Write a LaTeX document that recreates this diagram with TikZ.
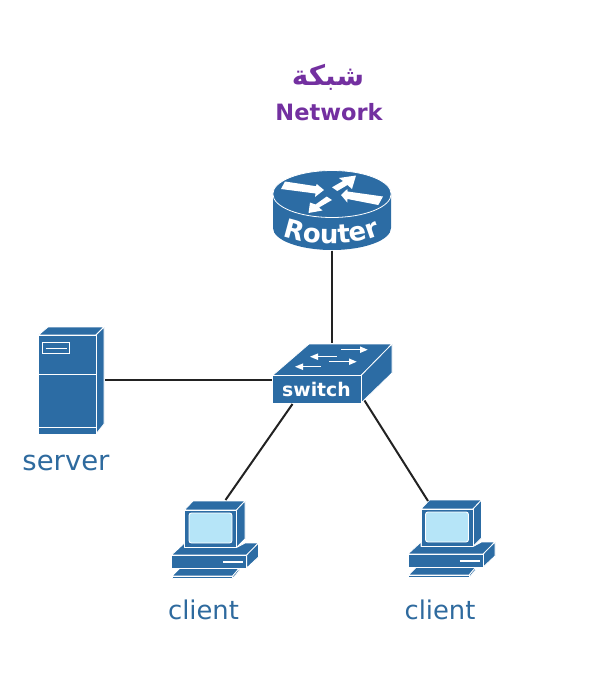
\documentclass[tikz,border=0pt]{standalone}
\usepackage{fontspec}
\setmainfont{DejaVu Sans}
\newfontfamily\arabicfont[Script=Arabic]{DejaVu Sans}
\TeXXeTstate=1
\usetikzlibrary{decorations.text}
\definecolor{iconblue}{HTML}{2C6CA4}
\definecolor{labelblue}{HTML}{2E6A9E}
\definecolor{titlepurple}{HTML}{7330A0}
\definecolor{screenblue}{HTML}{B6E5F8}
\definecolor{linkgray}{HTML}{222222}
\tikzset{
  x=1pt,y=-1pt,
  face/.style={fill=iconblue,draw=white,line width=0.8pt,line join=round},
  whiteline/.style={draw=white,line width=0.9pt},
  whitefill/.style={fill=white},
  link/.style={draw=linkgray,line width=2pt},
  devlabel/.style={text=labelblue,font=\fontsize{25.8}{30}\selectfont,inner sep=0pt},
  titletext/.style={text=titlepurple,font=\fontsize{22.5}{27}\selectfont\bfseries,inner sep=0pt},
  port/.style={inner sep=0pt,outer sep=0pt,minimum size=0pt},
  smallarrow/.style={draw=white,line width=1.3pt},
  clientpc/.pic={
    \path[face] (0,9)--(8.5,0)--(60.5,0)--(52,9)--cycle;
    \path[face] (52,9)--(60.5,0)--(60.5,38)--(52,46.5)--cycle;
    \path[face] (0,9) rectangle (52,46.5);
    \path[fill=screenblue,draw=white,line width=0.9pt,rounded corners=2.5pt] (4.5,12) rectangle (47.5,42);
    \path[face] (-13,54)--(0,42)--(0,46.5)--(52,46.5)--(60.5,42)--(74,42)--(62.2,54)--cycle;
    \path[face] (62.2,54)--(74,42)--(74,56)--(62.2,67)--cycle;
    \path[face] (-13,54) rectangle (62.2,67);
    \draw[whiteline,line width=1.3pt] (38.5,61) -- (58.5,61);
    \path[face] (-12.5,75)--(-5,67.5)--(54.5,67.5)--(48.2,75)--cycle;
    \path[face] (48.2,75)--(54.5,67.5)--(54.5,70)--(48.2,77.5)--cycle;
    \path[face] (-12.5,75) rectangle (48.2,77.5);
  }
}
\begin{document}
\begin{tikzpicture}
\useasboundingbox (0,0) rectangle (593,678);

% Titles
\node[titletext,font=\fontsize{28}{32}\selectfont\bfseries] (titlear) at (328,77) {\arabicfont\beginR شبكة\endR};
\node[titletext] (titleen) at (329,112) {Network};

% Router
\path[fill=iconblue] (273,194) -- (273,228) arc[start angle=180,end angle=0,x radius=59,y radius=22] -- (391,194) -- cycle;
\path[face] (332,194) ellipse[x radius=59.2,y radius=23.5];
\path[whitefill] (285,181.5)--(316,186.2)--(316.7,184)--(324,190)--(315,197)--(315.5,193.5)--(281,189)--cycle;
\path[whitefill] (332,187.3)--(343,181)--(339,178)--(356,175.5)--(352,189)--(347.5,185)--(337.3,191)--cycle;
\path[whitefill] (383,196.5)--(347.6,191.5)--(347.3,189)--(341,195)--(347.3,202.5)--(347.5,199)--(378.3,205)--cycle;
\path[whitefill] (326.7,196.5)--(315.5,204.5)--(310,202.5)--(308.5,213)--(322.5,210.5)--(319,207.5)--(332,200)--cycle;
\path[decorate,decoration={text along path,text align=center,
  text={|\color{white}\fontsize{26}{30}\selectfont\bfseries|Router}}]
  (279,234) .. controls (305,246) and (355,248) .. (384,233);

% Switch
\path[face] (272.5,375.5)--(309,344)--(392,344)--(361,375.5)--cycle;
\path[face] (361,375.5)--(392,344)--(392,373)--(361,403)--cycle;
\path[face] (272.5,375.5) rectangle (361,403);
\node[inner sep=0pt,text=white,font=\fontsize{18.8}{22}\selectfont\bfseries] (switchtext) at (316.5,389) {switch};
\foreach \xa/\xb/\yy/\tip in {341/360/349.7/367.7, 336.7/318/356.7/310, 329.3/349/361.7/356.7, 321/303/366.7/295}{
  \draw[smallarrow] (\xa,\yy) -- (\xb,\yy);
  \path[whitefill] (\tip,\yy) -- (\xb,\yy-3.3) -- (\xb,\yy+3.3) -- cycle;
}

% Server
\path[face] (38.5,335)--(48,327)--(104,327)--(96,335)--cycle;
\path[face] (96,335)--(104,327)--(104,424)--(96,434)--cycle;
\path[face] (38.5,335) rectangle (96,434.5);
\draw[whiteline] (39,374) -- (96,374);
\draw[whiteline] (39,427) -- (96,427);
\draw[whiteline] (42.5,342.5) rectangle (69.5,353.5);
\draw[whiteline] (45.5,348) -- (66.5,348);

% Clients
\pic at (184.5,501) {clientpc};
\pic at (421,500) {clientpc};

% Labels
\node[devlabel,font=\fontsize{27.5}{32}\selectfont] (serverlabel) at (66,462.5) {server};
\node[devlabel] (clientlabela) at (203.5,610) {client};
\node[devlabel] (clientlabelb) at (440,610) {client};

% Connection points
\node[port] (router) at (332,250.5) {};
\node[port] (switchtop) at (332,343) {};
\node[port] (switchleft) at (272,380) {};
\node[port] (switchll) at (292.5,404) {};
\node[port] (switchlr) at (364.5,400.5) {};
\node[port] (server) at (105,380) {};
\node[port] (clienta) at (225.5,500) {};
\node[port] (clientb) at (428,501) {};

% Connectors
\draw[link] (router) -- (switchtop);
\draw[link] (server) -- (switchleft);
\draw[link] (switchll) -- (clienta);
\draw[link] (switchlr) -- (clientb);
\end{tikzpicture}
\end{document}
